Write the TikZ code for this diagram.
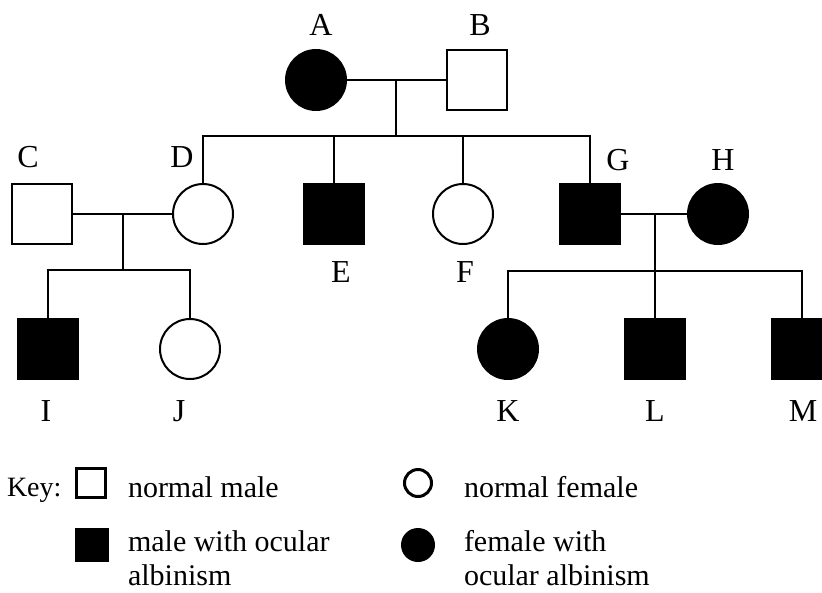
\documentclass[tikz,border=0pt]{standalone}
\usepackage{fontspec}
\setmainfont{Liberation Serif}
\begin{document}
\begin{tikzpicture}[x=1pt,y=-1pt,
  line width=2pt,
  male/.style={draw, rectangle, minimum size=60pt, inner sep=0pt, fill=white},
  female/.style={draw, circle, minimum size=60pt, inner sep=0pt, fill=white},
  affected/.style={fill=black},
  tag/.style={inner sep=0pt, font=\fontsize{32}{36}\selectfont},
  keytext/.style={anchor=base west, inner sep=0pt, font=\fontsize{30}{35}\selectfont},
  keymale/.style={draw, rectangle, inner sep=0pt},
  keyfemale/.style={draw, circle, inner sep=0pt}]
\clip (0,0) rectangle (822,592);

% generation I
\node[female, affected] (A) at (316,80) {};
\node[male] (B) at (477,80) {};
% generation II
\node[male] (C) at (42,214) {};
\node[female] (D) at (203,214) {};
\node[male, affected] (E) at (334,214) {};
\node[female] (F) at (463,214) {};
\node[male, affected] (G) at (590,214) {};
\node[female, affected] (H) at (718,214) {};
% generation III
\node[male, affected] (I) at (48,349) {};
\node[female] (J) at (190,349) {};
\node[female, affected] (K) at (508,349) {};
\node[male, affected] (L) at (655,349) {};
\node[male, affected] (M) at (802,349) {};

% individual letters
\node[tag] (tA) at (321,25) {A};
\node[tag] (tB) at (480,25) {B};
\node[tag] (tC) at (28,157) {C};
\node[tag] (tD) at (182,157) {D};
\node[tag] (tG) at (618,160) {G};
\node[tag] (tH) at (723,160) {H};
\node[tag] (tE) at (341,272) {E};
\node[tag] (tF) at (465,272) {F};
\node[tag] (tI) at (46,411) {I};
\node[tag] (tJ) at (179,411) {J};
\node[tag] (tK) at (508,411) {K};
\node[tag] (tL) at (655,411) {L};
\node[tag] (tM) at (803,411) {M};

% A x B and their children
\coordinate (mAB) at (396,80);
\coordinate (sAB) at (396,136);
\draw (A) -- (B);
\draw (mAB) -- (sAB);
\draw (D.north) -- (D.north |- sAB) -- (G.north |- sAB) -- (G.north);
\draw (E.north |- sAB) -- (E.north);
\draw (F.north |- sAB) -- (F.north);

% C x D and their children
\coordinate (mCD) at (123,214);
\coordinate (sCD) at (123,270);
\draw (C) -- (D);
\draw (mCD) -- (sCD);
\draw (I.north) -- (I.north |- sCD) -- (J.north |- sCD) -- (J.north);

% G x H and their children
\coordinate (mGH) at (655,214);
\coordinate (sGH) at (655,271);
\draw (G) -- (H);
\draw (mGH) -- (sGH);
\draw (K.north) -- (K.north |- sGH) -- (M.north |- sGH) -- (M.north);
\draw (L.north |- sGH) -- (L.north);

% key
\node[anchor=base west, inner sep=0pt, font=\fontsize{28}{32}\selectfont] (key) at (6,496) {Key:};
\node[keymale, line width=3pt, minimum size=29pt] (k1) at (91,483) {};
\node[keyfemale, line width=3pt, minimum size=27pt] (k2) at (418,483) {};
\node[keymale, fill=black, minimum size=32pt] (k3) at (92,545) {};
\node[keyfemale, fill=black, minimum size=32pt] (k4) at (418,545) {};
\node[keytext] (t1) at (127,497) {normal male};
\node[keytext] (t2) at (463,497) {normal female};
\node[keytext] (t3) at (127,551) {male with ocular};
\node[keytext] (t4) at (127,585) {albinism};
\node[keytext] (t5) at (463,551) {female with};
\node[keytext] (t6) at (463,585) {ocular albinism};
\end{tikzpicture}
\end{document}
